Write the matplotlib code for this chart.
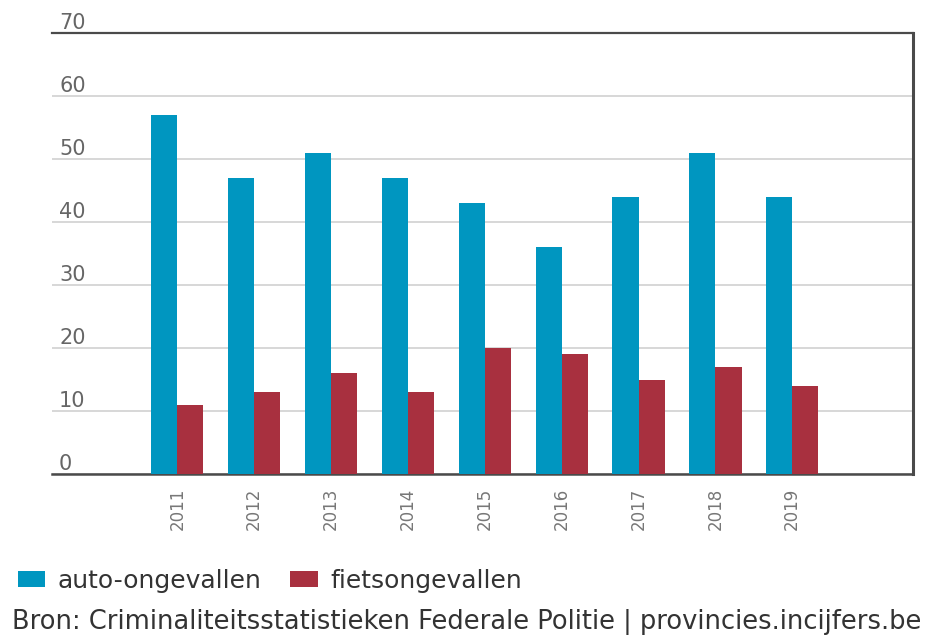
import numpy as np
import matplotlib
matplotlib.use("Agg")
import matplotlib.pyplot as plt

# ── data ─────────────────────────────────────────────────────────
years = ['2011', '2012', '2013', '2014', '2015', '2016', '2017', '2018', '2019']
auto  = [57, 47, 51, 47, 43, 36, 44, 51, 44]
fiets = [11, 13, 16, 13, 20, 19, 15, 17, 14]
yticks = [0, 10, 20, 30, 40, 50, 60, 70]

BLUE = '#0096c0'
RED  = '#a8303f'
GREY = '#666666'

plt.rcParams['font.family'] = ['DejaVu Sans']

fig = plt.figure(figsize=(9.47, 6.35), dpi=100)
ax = fig.add_axes([0.055, 0.2535, 0.909, 0.6945])

x = np.arange(len(years))
w = 0.34
ax.bar(x - w/2, auto, width=w, color=BLUE, label='auto-ongevallen', zorder=3)
ax.bar(x + w/2, fiets, width=w, color=RED, label='fietsongevallen', zorder=3)

ax.set_xlim(-1.63, 9.57)
ax.set_ylim(0, 70)

# grid + frame
ax.set_yticks(yticks)
ax.grid(axis='y', color='#d4d4d4', linewidth=1.3, zorder=0)
ax.spines['left'].set_visible(False)
for side, lw in [('top', 1.6), ('right', 2.2), ('bottom', 1.8)]:
    ax.spines[side].set_color('#4a4a4a')
    ax.spines[side].set_linewidth(lw)

# y labels sit inside the plot, just above each gridline
ax.tick_params(axis='y', length=0, pad=-5, labelsize=15, labelcolor=GREY)
for lbl in ax.get_yticklabels():
    lbl.set_ha('left')
    lbl.set_va('bottom')

ax.set_xticks(x)
ax.set_xticklabels(years, rotation=90, va='top', ha='center')
ax.tick_params(axis='x', length=0, pad=10, labelsize=12, labelcolor='#777777')

fig.legend(loc='center left', bbox_to_anchor=(0.0, 1 - 581/635), ncol=2, frameon=False,
           fontsize=18, handlelength=1.1, handleheight=0.6, handletextpad=0.5,
           columnspacing=1.15, labelcolor='#333333', borderaxespad=0.3)

fig.text(12/947, 1 - 622/635, 'Bron: Criminaliteitsstatistieken Federale Politie | provincies.incijfers.be',
         fontsize=18.5, color='#333333', ha='left', va='center')

fig.savefig('out.png', dpi=100)
